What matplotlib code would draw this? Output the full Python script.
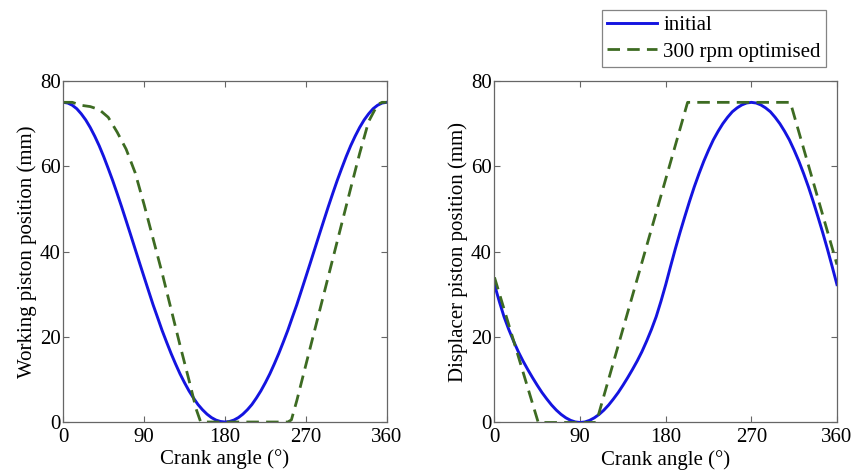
import matplotlib
matplotlib.use('Agg')
import matplotlib.pyplot as plt

plt.rcParams['font.family'] = ['Liberation Serif', 'DejaVu Serif']
plt.rcParams['font.size'] = 15

# ==========================================
# Working piston (left panel), read every 5 degrees
angle_w_init = list(range(0, 361, 5))
pos_w_init_half = [75, 74.83, 74.32, 73.5, 72.3, 70.86, 69.1, 67.06, 64.8, 62.26,
                   59.5, 56.65, 53.6, 50.46, 47.2, 43.92, 40.6, 37.28, 34.0,
                   30.74, 27.5, 24.52, 21.5, 18.76, 16.1, 13.63, 11.3, 9.22,
                   7.3, 5.62, 4.1, 2.88, 1.85, 1.04, 0.46, 0.12, 0]
pos_w_init = pos_w_init_half + pos_w_init_half[-2::-1]

angle_w_opt = [0, 10, 20, 30, 40, 50, 60, 70, 80, 90, 100, 110, 120, 130, 140,
               148, 153, 250, 254, 260, 270, 280, 290, 300, 310, 320, 330,
               340, 350, 355, 360]
pos_w_opt = [75, 75, 74.3, 74, 73.3, 71.5, 68, 64, 58.5, 51, 43, 35, 26.5, 18,
             9.8, 3, 0, 0, 0.5, 5, 13.3, 21.6, 29.9, 38.2, 46.5, 54.8, 63,
             70.5, 74.5, 75, 75]

# Displacer piston (right panel), read every 5 degrees
angle_d_init = list(range(0, 361, 5))
pos_d_init = [32.3, 28.4, 24.8, 21.8, 19.1, 16.6, 14.4, 12.4, 10.5, 8.7,
              7.0, 5.5, 4.1, 2.9, 1.9, 1.1, 0.5, 0.12, 0,
              0.12, 0.5, 1.1, 1.9, 2.9, 4.1, 5.5, 7.0, 8.7,
              10.5, 12.4, 14.4, 16.6, 19.1, 21.8, 24.8, 28.4, 32.3,
              36.5, 40.6, 44.5, 48.2, 51.8, 55.2, 58.3, 61.2, 63.8,
              66.2, 68.2, 70.0, 71.5, 72.8, 73.7, 74.4, 74.85, 75,
              74.85, 74.4, 73.7, 72.8, 71.5, 70.0, 68.2, 66.2, 63.8,
              61.2, 58.3, 55.2, 51.8, 48.2, 44.5, 40.6, 36.5, 32.3]

angle_d_opt = [0, 46, 107, 203, 311, 360]
pos_d_opt = [34, 0, 0, 75, 75, 37]

xticks = [0, 90, 180, 270, 360]
yticks = [0, 20, 40, 60, 80]

blue = '#1414e0'
green = '#3d6b22'

fig = plt.figure(figsize=(8.53, 4.71), dpi=100)
ax1 = fig.add_axes([0.0742, 0.104, 0.379, 0.724])
ax2 = fig.add_axes([0.5797, 0.103, 0.4015, 0.725])

panels = [
    (ax1, angle_w_init, pos_w_init, angle_w_opt, pos_w_opt, 'Working piston position (mm)'),
    (ax2, angle_d_init, pos_d_init, angle_d_opt, pos_d_opt, 'Displacer piston position (mm)'),
]

for ax, xi, yi, xo, yo, ylab in panels:
    ax.plot(xi, yi, color=blue, linewidth=2.1, label='initial')
    ax.plot(xo, yo, color=green, linewidth=2.0, linestyle=(0, (4.5, 2.6)),
            label='300 rpm optimised')
    ax.set_xlim(0, 360)
    ax.set_ylim(0, 80)
    ax.set_xticks(xticks)
    ax.set_yticks(yticks)
    ax.tick_params(direction='in', top=True, right=True, length=4, width=0.8,
                   color='#666666', labelsize=15)
    ax.tick_params(axis='x', pad=4)
    ax.tick_params(axis='y', pad=2)
    for s in ax.spines.values():
        s.set_color('#666666')
        s.set_linewidth(0.9)
    ax.set_xlabel('Crank angle (°)', fontsize=15, labelpad=2)
    ax.set_ylabel(ylab, fontsize=15, labelpad=2)

handles, labels = ax2.get_legend_handles_labels()
leg = fig.legend(handles, labels, loc='upper left', bbox_to_anchor=(602 / 853, 1 - 10 / 471),
                 fontsize=15, frameon=True, fancybox=False, edgecolor='#666666',
                 handlelength=2.4, handletextpad=0.3, borderpad=0.25, labelspacing=0.35,
                 borderaxespad=0)
leg.get_frame().set_linewidth(0.9)

fig.savefig('out.png', dpi=100)
